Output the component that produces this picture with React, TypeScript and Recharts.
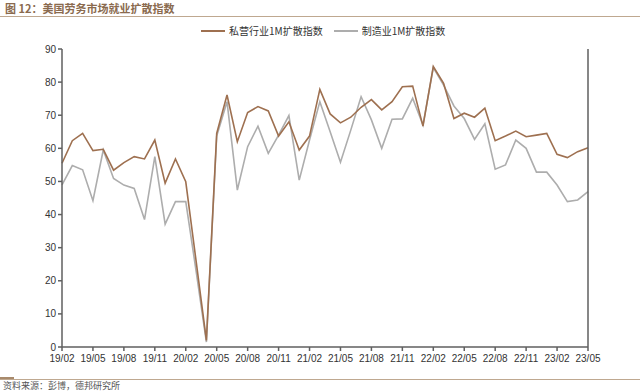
import { LineChart, Line, XAxis, YAxis } from 'recharts';

const months = [
  '19/02', '19/03', '19/04', '19/05', '19/06', '19/07', '19/08', '19/09', '19/10', '19/11', '19/12',
  '20/01', '20/02', '20/03', '20/04', '20/05', '20/06', '20/07', '20/08', '20/09', '20/10', '20/11', '20/12',
  '21/01', '21/02', '21/03', '21/04', '21/05', '21/06', '21/07', '21/08', '21/09', '21/10', '21/11', '21/12',
  '22/01', '22/02', '22/03', '22/04', '22/05', '22/06', '22/07', '22/08', '22/09', '22/10', '22/11', '22/12',
  '23/01', '23/02', '23/03', '23/04', '23/05',
];

const privateIdx = [
  55.5, 62.3, 64.5, 59.3, 59.7, 53.4, 55.7, 57.5, 56.8, 62.5, 49.5,
  56.8, 49.9, 26, 2, 64.5, 76.1, 62, 70.8, 72.6, 71.3, 63.7,
  68, 59.5, 63.7, 77.8, 70.4, 67.7, 69.4, 72.4, 74.7, 71.6, 74.1,
  78.6, 78.8, 66.7, 84.7, 79.6, 69, 70.6, 69.4, 72.1, 62.3, 63.7,
  65.2, 63.5, 64, 64.5, 58.2, 57.2, 59, 60.2,
];

const mfgIdx = [
  49, 54.8, 53.5, 44.2, 59.5, 50.9, 48.9, 47.9, 38.5, 57.5, 37.1,
  43.9, 43.9, 23, 1.5, 63.7, 74.1, 47.4, 60.5, 66.7, 58.5, 64,
  69.9, 50.4, 62.5, 74.1, 65, 55.8, 65.5, 75.6, 68.6, 60, 68.8,
  68.9, 75.1, 67, 84.4, 79.1, 72.8, 69, 62.7, 67.4, 53.7, 55,
  62.5, 60, 52.8, 52.8, 48.9, 43.9, 44.4, 46.9,
];

const yTicks = [0, 10, 20, 30, 40, 50, 60, 70, 80, 90];

const BROWN = '#9E7050';
const GRAY = '#ADADAD';
const AXIS = '#5F5F5F';

const data = months.map((m, i) => ({ month: m, priv: privateIdx[i], mfg: mfgIdx[i] }));

const tickStyle = { fontSize: 10, fill: '#333', fontFamily: 'Liberation Sans, Arial, sans-serif' };

export default function App() {
  return (
    <div
      style={{
        position: 'absolute',
        left: 0,
        top: 0,
        width: 640,
        height: 391,
        background: '#fff',
        fontFamily: '"Noto Sans CJK SC", sans-serif',
      }}
    >
      <div style={{ position: 'absolute', left: 5, top: 1, fontSize: 11, fontWeight: 700, color: '#8A6A4E', lineHeight: '14px' }}>
        图 12：美国劳务市场就业扩散指数
      </div>
      <div style={{ position: 'absolute', left: 0, top: 16, width: 640, height: 1, background: '#BFA890' }} />

      <div style={{ position: 'absolute', left: 201, top: 24, display: 'flex', alignItems: 'center', fontSize: 10, color: '#333', lineHeight: '14px' }}>
        <span style={{ display: 'inline-block', width: 24, height: 2, background: BROWN, marginRight: 4 }} />
        <span>私营行业1M扩散指数</span>
        <span style={{ display: 'inline-block', width: 24, height: 2, background: GRAY, marginLeft: 11, marginRight: 4 }} />
        <span>制造业1M扩散指数</span>
      </div>

      <div style={{ position: 'absolute', left: 0, top: 0 }}>
        <LineChart width={640} height={391} data={data} margin={{ top: 49, right: 22, left: 32, bottom: 24 }}>
          <XAxis
            dataKey="month"
            interval={2}
            tick={tickStyle}
            tickSize={4}
            stroke={AXIS}
            strokeWidth={1.5}
            tickMargin={4}
            height={20}
          />
          <YAxis
            yAxisId="left"
            domain={[0, 90]}
            ticks={yTicks}
            tick={tickStyle}
            tickSize={4}
            stroke={AXIS}
            strokeWidth={1.5}
            width={30}
            interval={0}
          />
          <YAxis
            yAxisId="right"
            orientation="right"
            domain={[0, 90]}
            ticks={yTicks}
            tick={tickStyle}
            tickSize={4}
            stroke={AXIS}
            strokeWidth={1.5}
            width={30}
            interval={0}
          />
          <Line yAxisId="left" dataKey="mfg" stroke={GRAY} strokeWidth={1.6} dot={false} isAnimationActive={false} />
          <Line yAxisId="left" dataKey="priv" stroke={BROWN} strokeWidth={1.6} dot={false} isAnimationActive={false} />
        </LineChart>
      </div>

      <div style={{ position: 'absolute', left: 0, top: 377, width: 14, height: 2, background: '#A88A6C' }} />
      <div style={{ position: 'absolute', left: 0, top: 379, width: 640, height: 1, background: '#BFA890' }} />
      <div style={{ position: 'absolute', left: 3, top: 381, fontSize: 9, color: '#555', lineHeight: '10px' }}>
        资料来源：彭博，德邦研究所
      </div>
    </div>
  );
}
